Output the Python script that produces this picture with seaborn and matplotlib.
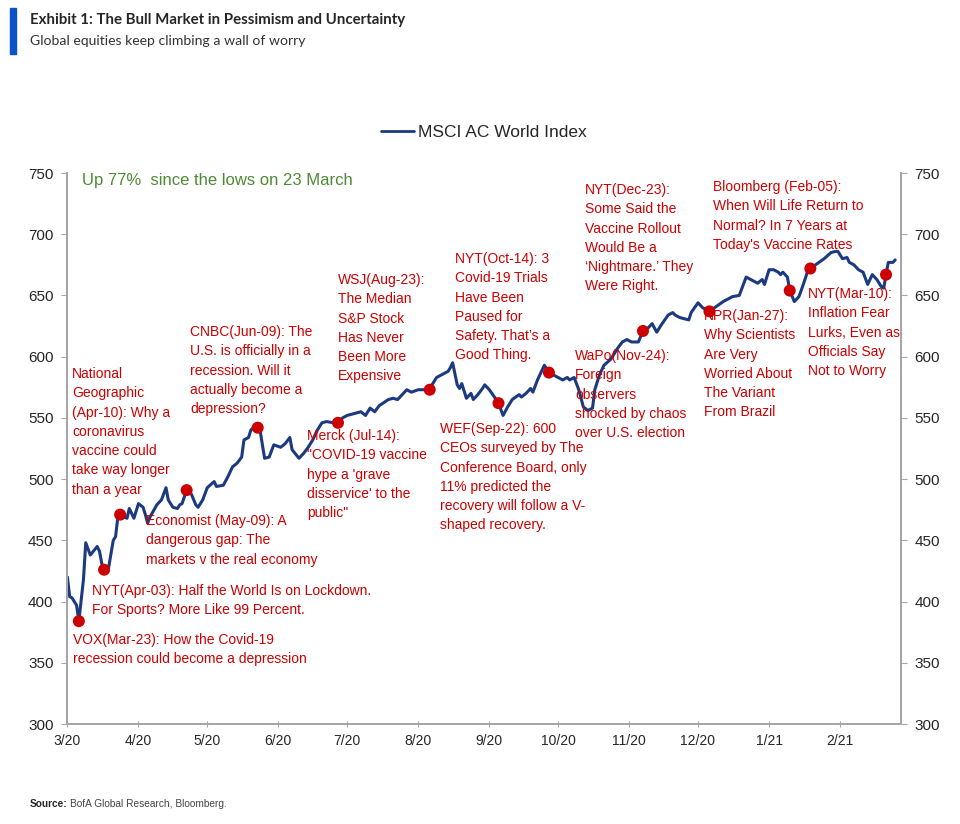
import numpy as np
import pandas as pd
import matplotlib
matplotlib.use("Agg")
import matplotlib.pyplot as plt
import seaborn as sns
from matplotlib.patches import Rectangle
from matplotlib.lines import Line2D

# MSCI AC World Index (days after 18 Mar 2020)
days = [0, 1, 2, 4, 5, 7, 8, 10, 13, 14,
        15, 16, 18, 20, 21, 22, 23, 26, 27, 29,
        31, 33, 34, 35, 36, 39, 41, 43, 44, 46,
        48, 49, 50, 52, 54, 56, 57, 59, 61, 64,
        65, 68, 70, 72, 74, 76, 77, 79, 80, 82,
        83, 84, 86, 88, 90, 93, 95, 97, 98, 101,
        103, 105, 107, 109, 111, 113, 116, 118, 120, 122,
        126, 128, 130, 132, 134, 136, 140, 142, 144, 146,
        148, 150, 153, 155, 158, 159, 161, 163, 166, 167,
        168, 170, 171, 172, 174, 176, 177, 179, 181, 182,
        184, 187, 188, 190, 192, 194, 197, 198, 200, 202,
        203, 205, 207, 208, 210, 214, 216, 218, 219, 221,
        223, 225, 227, 229, 230, 232, 234, 237, 240, 242,
        244, 246, 249, 251, 253, 255, 257, 259, 262, 264,
        265, 267, 271, 272, 275, 277, 279, 280, 283, 286,
        288, 290, 293, 296, 298, 301, 303, 304, 306, 308,
        310, 311, 312, 314, 315, 317, 319, 320, 322, 323,
        324, 327, 330, 333, 335, 336, 338, 340, 341, 343,
        345, 347, 349, 350, 351, 353, 355, 356, 357, 358,
        360, 361]
values = [420, 404, 403, 397, 384, 418, 448, 438, 445, 441,
          431, 426, 428, 450, 453, 469, 471, 468, 476, 468,
          480, 477, 471, 464, 469, 479, 483, 493, 483, 477,
          476, 479, 480, 491, 488, 479, 477, 483, 493, 498,
          494, 495, 502, 510, 513, 518, 532, 534, 540, 544,
          542, 540, 517, 518, 528, 526, 529, 534, 524, 517,
          521, 526, 532, 540, 546, 547, 546, 546, 550, 552,
          554, 555, 552, 558, 555, 560, 565, 566, 565, 569,
          573, 571, 573, 573, 573, 577, 583, 585, 588, 591,
          595, 577, 574, 578, 566, 570, 565, 569, 574, 577,
          573, 565, 562, 552, 559, 565, 569, 567, 570, 574,
          571, 581, 589, 593, 587, 583, 581, 583, 581, 583,
          573, 559, 556, 558, 573, 585, 593, 598, 607, 612,
          614, 612, 612, 621, 623, 627, 620, 626, 634, 636,
          634, 632, 630, 636, 644, 640, 638, 637, 641, 645,
          647, 649, 650, 665, 663, 660, 663, 659, 671, 671,
          669, 667, 669, 665, 654, 645, 649, 654, 665, 671,
          672, 676, 680, 685, 686, 686, 680, 681, 677, 675,
          671, 669, 659, 663, 667, 663, 657, 656, 667, 677,
          677, 679]
assert len(days) == len(values)

event_dates = ["2020-03-23", "2020-04-03", "2020-04-10", "2020-05-09", "2020-06-09",
               "2020-07-14", "2020-08-23", "2020-09-22", "2020-10-14", "2020-11-24",
               "2020-12-23", "2021-01-27", "2021-02-05", "2021-03-10"]
event_values = [384, 426, 471, 491, 542, 546, 573, 562, 587, 621, 637, 654, 672, 667]
event_notes = [
    "VOX(Mar-23): How the Covid-19\nrecession could become a depression",
    "NYT(Apr-03): Half the World Is on Lockdown.\nFor Sports? More Like 99 Percent.",
    "National\nGeographic\n(Apr-10): Why a\ncoronavirus\nvaccine could\ntake way longer\nthan a year",
    "Economist (May-09): A\ndangerous gap: The\nmarkets v the real economy",
    "CNBC(Jun-09): The\nU.S. is officially in a\nrecession. Will it\nactually become a\ndepression?",
    "Merck (Jul-14):\n\"COVID-19 vaccine\nhype a 'grave\ndisservice' to the\npublic\"",
    "WSJ(Aug-23):\nThe Median\nS&P Stock\nHas Never\nBeen More\nExpensive",
    "WEF(Sep-22): 600\nCEOs surveyed by The\nConference Board, only\n11% predicted the\nrecovery will follow a V-\nshaped recovery.",
    "NYT(Oct-14): 3\nCovid-19 Trials\nHave Been\nPaused for\nSafety. That\u2019s a\nGood Thing.",
    "WaPo(Nov-24):\nForeign\nobservers\nshocked by chaos\nover U.S. election",
    "NYT(Dec-23):\nSome Said the\nVaccine Rollout\nWould Be a\n\u2018Nightmare.\u2019 They\nWere Right.",
    "NPR(Jan-27):\nWhy Scientists\nAre Very\nWorried About\nThe Variant\nFrom Brazil",
    "Bloomberg (Feb-05):\nWhen Will Life Return to\nNormal? In 7 Years at\nToday's Vaccine Rates",
    "NYT(Mar-10):\nInflation Fear\nLurks, Even as\nOfficials Say\nNot to Worry",
]
# where each note sits on the page (pixels: left edge, centre of first line)
note_xy = [(73, 639), (92, 590), (72, 373), (146, 520), (190, 331), (307, 435),
           (338, 279), (440, 428), (455, 258), (575, 355), (585, 189), (704, 315),
           (713, 186), (808, 293)]

NAVY = "#1B3A80"
RED = "#CC0000"
GREEN = "#4E8A35"
GRAY = "#A6A6A6"
W, H = 960, 824

sns.set_style("white")
plt.rcParams["font.family"] = ["Liberation Sans", "DejaVu Sans"]

fig = plt.figure(figsize=(W / 100, H / 100), dpi=100)
ax = fig.add_axes([67.4 / W, 1 - 724 / H, (900.7 - 67.4) / W, (724 - 173) / H])

start = pd.Timestamp("2020-03-18")
df = pd.DataFrame({"date": start + pd.to_timedelta(days, unit="D"), "value": values})
ev = pd.DataFrame({"date": pd.to_datetime(event_dates), "value": event_values})

sns.lineplot(data=df, x="date", y="value", ax=ax, color=NAVY, lw=2.2, legend=False)
sns.scatterplot(data=ev, x="date", y="value", ax=ax, color=RED, s=75,
                edgecolor="none", zorder=5, legend=False)

ax.set_xlim(start, start + pd.Timedelta(days=363.4))
ax.set_ylim(300, 750)
ticks = pd.date_range(start, periods=12, freq=pd.DateOffset(months=1))
ax.set_xticks(ticks)
ax.set_xticklabels([f"{t.month}/{t:%y}" for t in ticks])
yt = list(range(300, 751, 50))
ax.set_yticks(yt)
ax.set_xlabel("")
ax.set_ylabel("")

ax2 = ax.twinx()
ax2.set_ylim(300, 750)
ax2.set_yticks(yt)

for a in (ax, ax2):
    a.spines["top"].set_visible(False)
    for s in ("left", "right", "bottom"):
        a.spines[s].set_color(GRAY)
        a.spines[s].set_linewidth(1.4)
ax.tick_params(axis="y", left=True, direction="out", length=4, color=GRAY,
               labelsize=11, pad=6)
ax.tick_params(axis="x", bottom=True, direction="inout", length=5, color=GRAY,
               labelsize=10, pad=5)
ax2.tick_params(axis="y", right=True, direction="out", length=4, color=GRAY,
                labelsize=11, pad=6)

ax.legend(handles=[Line2D([], [], color=NAVY, lw=2)], labels=["MSCI AC World Index"],
          loc="center", bbox_to_anchor=(0.5, 1.074), frameon=False, fontsize=12.5,
          handlelength=1.9, handletextpad=0.2)

fig.text(82 / W, 1 - 181 / H, "Up 77%  since the lows on 23 March", color=GREEN,
         fontsize=12, va="center")

for note, (px, py) in zip(event_notes, note_xy):
    fig.text(px / W, 1 - (py - 6) / H, note, color=RED, fontsize=10,
             va="top", ha="left", linespacing=1.48)

# header
fig.patches.append(Rectangle((10 / W, 1 - 54 / H), 6 / W, 46 / H, color="#0A52C8",
                             transform=fig.transFigure))
fig.text(30 / W, 1 - 20 / H, "Exhibit 1: The Bull Market in Pessimism and Uncertainty",
         fontsize=10.8, fontweight="bold", family=["Lato", "DejaVu Sans"], va="center")
fig.text(30 / W, 1 - 41 / H, "Global equities keep climbing a wall of worry",
         fontsize=10.1, family=["Lato", "DejaVu Sans"], color="#333333", va="center")

fig.text(30 / W, 1 - 804 / H, "Source:", fontsize=7.3, fontweight="bold", va="center")
fig.text(70 / W, 1 - 804 / H, "BofA Global Research, Bloomberg.", fontsize=7.3,
         color="#444444", va="center")

fig.savefig("out.png", dpi=100)
